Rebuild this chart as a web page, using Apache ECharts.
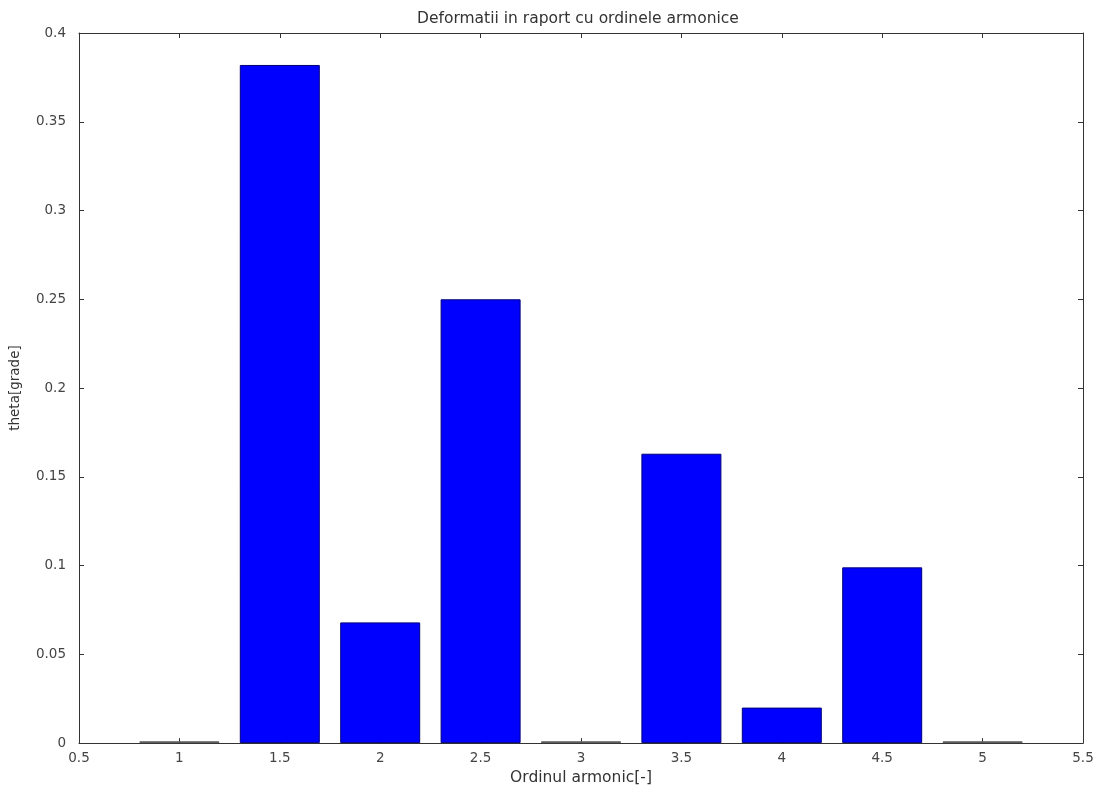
<!DOCTYPE html>
<html>
<head>
<meta charset="utf-8">
<script src="https://cdn.jsdelivr.net/npm/echarts@6/dist/echarts.min.js"></script>
<style>
  html, body { margin: 0; padding: 0; background: #fff; }
  #chart { width: 1100px; height: 791px; }
</style>
</head>
<body>
<div id="chart"></div>
<script>
// data
var orders = [1, 1.5, 2, 2.5, 3, 3.5, 4, 4.5, 5];
var theta = [0.001, 0.382, 0.068, 0.25, 0.001, 0.163, 0.02, 0.099, 0.001];

var font = 'DejaVu Sans, Arial, sans-serif';

// near-zero bars show as a grey line, like in the original
var barData = orders.map(function (x, i) {
    var item = { value: [x, theta[i]] };
    if (theta[i] < 0.005) {
        item.itemStyle = { color: '#5a5a5a', borderColor: '#5a5a5a' };
    }
    return item;
});

var axisCommon = {
    axisLine: { show: true, onZero: false, lineStyle: { color: '#333', width: 1 } },
    axisTick: { show: true, inside: true, length: 5, lineStyle: { color: '#333' } },
    splitLine: { show: false }
};

var chart = echarts.init(document.getElementById('chart'));
chart.setOption({
    animation: false,
    backgroundColor: '#fff',
    title: {
        text: 'Deformatii in raport cu ordinele armonice',
        left: 417, top: 11, padding: 0,
        textStyle: { fontFamily: font, fontSize: 15.5, fontWeight: 'normal', color: '#333' }
    },
    grid: { left: 78, right: 17, top: 33, bottom: 47 },
    xAxis: [
        Object.assign({
            type: 'value', min: 0.5, max: 5.5, interval: 0.5,
            position: 'bottom',
            name: 'Ordinul armonic[-]', nameLocation: 'middle', nameGap: 26,
            nameTextStyle: { fontFamily: font, fontSize: 15.5, color: '#333' },
            axisLabel: { fontFamily: font, fontSize: 13.5, color: '#444', margin: 8 }
        }, axisCommon),
        Object.assign({
            type: 'value', min: 0.5, max: 5.5, interval: 0.5,
            position: 'top', axisLabel: { show: false }
        }, axisCommon)
    ],
    yAxis: [
        Object.assign({
            type: 'value', min: 0, max: 0.4, interval: 0.05,
            position: 'left',
            name: 'theta[grade]', nameLocation: 'middle', nameGap: 57,
            nameTextStyle: { fontFamily: font, fontSize: 13.5, color: '#333' },
            axisLabel: { fontFamily: font, fontSize: 13.5, color: '#444', margin: 13 }
        }, axisCommon),
        Object.assign({
            type: 'value', min: 0, max: 0.4, interval: 0.05,
            position: 'right', axisLabel: { show: false }
        }, axisCommon)
    ],
    series: [{
        type: 'bar',
        xAxisIndex: 0,
        yAxisIndex: 0,
        data: barData,
        barWidth: 80,
        itemStyle: { color: '#0000ff', borderColor: '#00007a', borderWidth: 1 }
    }]
});
</script>
</body>
</html>
